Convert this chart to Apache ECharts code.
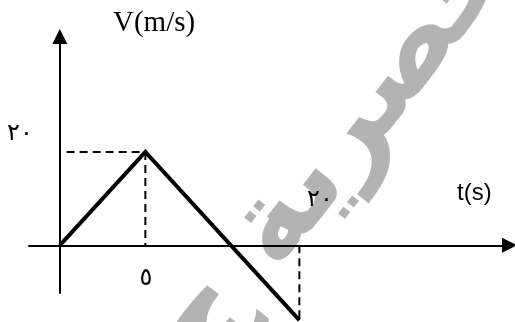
<!DOCTYPE html>
<html>
<head>
<meta charset="utf-8">
<script src="https://cdn.jsdelivr.net/npm/echarts@6/dist/echarts.min.js"></script>
<style>
  html, body { margin: 0; padding: 0; background: #fff; }
  #chart { width: 515px; height: 322px; }
</style>
</head>
<body>
<div id="chart"></div>
<script>
// motion: v against t
var timeS = [0, 5, 14];
var velocity = [0, 20, -16];

// dashed guide lines
var guidePeakH = [[0.4, 20], [5, 20]];
var guidePeakV = [[5, 20], [5, 0]];
var guideEndV = [[14, 0], [14, -16]];

// labels as printed
var labelV = 'V(m/s)';
var labelT = 't(s)';
var tickY = '٢٠';
var tickX1 = '٥';
var tickX2 = '٢٠';
var watermark = 'حصرية ج';

var chart = echarts.init(document.getElementById('chart'));

var axisCommon = {
    type: 'value',
    axisLine: {
        onZero: true,
        symbol: ['none', 'triangle'],
        symbolSize: [15, 15],
        lineStyle: { color: '#000', width: 2 }
    },
    axisTick: { show: false },
    axisLabel: { show: false },
    splitLine: { show: false }
};

function dashed(points) {
    return {
        type: 'line',
        data: points,
        symbol: 'none',
        clip: false,
        silent: true,
        z: 3,
        lineStyle: { color: '#000', width: 2, type: [8, 5] }
    };
}

chart.setOption({
    animation: false,
    grid: { left: 29, right: 5.5, top: 36.5, bottom: 29 },
    xAxis: Object.assign({}, axisCommon, { min: -1.8, max: 26.28 }),
    yAxis: Object.assign({}, axisCommon, { min: -10.2, max: 44.7 }),
    graphic: [
        {
            type: 'text', x: 335, y: 150, rotation: 52 * Math.PI / 180, z: -10,
            style: {
                text: watermark, fill: '#b3b3b3', font: 'bold 118px "DejaVu Sans"',
                align: 'center', verticalAlign: 'middle'
            }
        },
        {
            type: 'text', x: 113, y: 23,
            style: { text: labelV, fill: '#000', font: '29px "Liberation Serif"', verticalAlign: 'middle' }
        },
        {
            type: 'text', x: 457, y: 193,
            style: { text: labelT, fill: '#000', font: '24px "Liberation Sans"', verticalAlign: 'middle' }
        },
        {
            type: 'text', x: 20, y: 134,
            style: { text: tickY, fill: '#000', font: '24px "DejaVu Sans"', align: 'center', verticalAlign: 'middle' }
        },
        {
            type: 'text', x: 146, y: 279,
            style: { text: tickX1, fill: '#000', font: '24px "DejaVu Sans"', align: 'center', verticalAlign: 'middle' }
        },
        {
            type: 'text', x: 320, y: 200,
            style: { text: tickX2, fill: '#000', font: '24px "DejaVu Sans"', align: 'center', verticalAlign: 'middle' }
        }
    ],
    series: [
        {
            type: 'line',
            data: timeS.map(function (t, i) { return [t, velocity[i]]; }),
            symbol: 'none',
            clip: false,
            z: 4,
            lineStyle: { color: '#000', width: 4, join: 'miter' }
        },
        dashed(guidePeakH),
        dashed(guidePeakV),
        dashed(guideEndV)
    ]
});
</script>
</body>
</html>
